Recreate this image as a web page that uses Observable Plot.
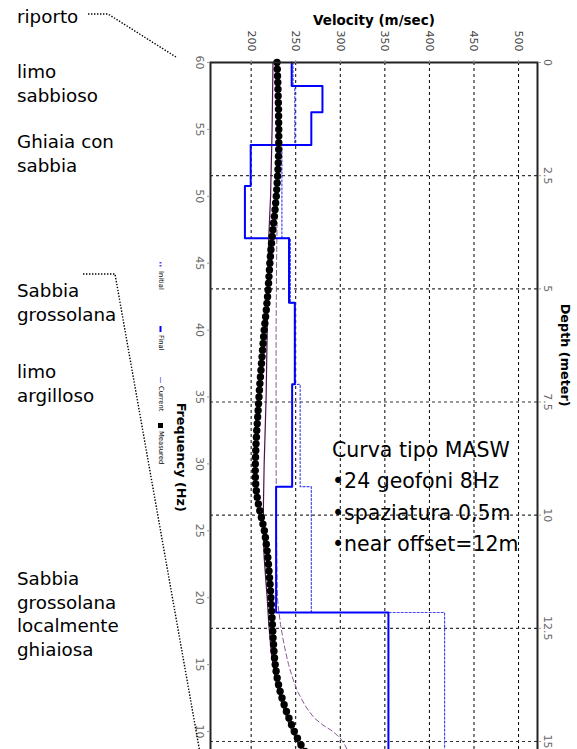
<!DOCTYPE html>
<html>
<head>
<meta charset="utf-8">
<script src="https://cdn.jsdelivr.net/npm/d3@7"></script>
<script src="https://cdn.jsdelivr.net/npm/@observablehq/plot@0.6"></script>
<style>
  html, body { margin: 0; padding: 0; background: #fff; overflow: hidden; width: 577px; height: 749px; }
  #chart svg { display: block; }
</style>
</head>
<body>
<div id="chart"></div>
<script>
// ---- Shear-wave velocity model (10 layers, top depth in m) ----
const layerTop = [0, 0.52, 1.10, 1.82, 2.73, 3.88, 5.31, 7.11, 9.37, 12.15];
const vsInitial = [247, 249, 249, 234.5, 234.5, 244, 249, 255, 267.5, 417];
const vsFinal = [245.5, 280, 267.5, 199.5, 193, 242.5, 249, 246, 228, 354];

// ---- Measured dispersion curve (Hz, m/s) ----
const measuredFreq = [
  60, 59.5, 59, 58.5, 58, 57.5, 57, 56.5, 56, 55.5, 55, 54.5, 54, 53.5, 53, 52.5, 52, 51.5, 51, 50.5,
  50, 49.5, 49, 48.5, 48, 47.5, 47, 46.5, 46, 45.5, 45, 44.5, 44, 43.5, 43, 42.5, 42, 41.5, 41, 40.5,
  40, 39.5, 39, 38.5, 38, 37.5, 37, 36.5, 36, 35.5, 35, 34.5, 34, 33.5, 33, 32.5, 32, 31.5, 31, 30.5,
  30, 29.5, 29, 28.5, 28, 27.5, 27, 26.5, 26, 25.5, 25, 24.5, 24, 23.5, 23, 22.5, 22, 21.5, 21, 20.5,
  20, 19.5, 19, 18.5, 18, 17.5, 17, 16.5, 16, 15.5, 15, 14.5, 14, 13.5, 13, 12.5, 12, 11.5, 11, 10.5,
  10, 9.5, 9, 8.5
];
const measuredVel = [
  229.0, 229.3, 229.6, 229.9, 230.1, 230.3, 230.5, 230.7, 230.8, 230.9, 231.0, 231.0, 231.0, 230.9, 230.7, 230.4, 230.1, 229.7, 229.2, 228.7,
  228.2, 227.5, 226.8, 226.0, 225.2, 224.4, 223.6, 222.9, 222.2, 221.6, 221.0, 220.5, 220.0, 219.5, 219.0, 218.4, 217.7, 217.0, 216.2, 215.4,
  214.6, 214.0, 213.4, 212.8, 212.2, 211.6, 211.0, 210.4, 209.8, 209.3, 208.8, 208.3, 207.8, 207.3, 206.8, 206.3, 205.9, 205.5, 205.2, 204.9,
  204.7, 204.6, 204.7, 205.1, 205.8, 206.8, 208.1, 209.7, 211.5, 213.2, 214.8, 216.0, 217.0, 217.9, 218.7, 219.4, 220.0, 220.6, 221.2, 221.7,
  222.2, 222.6, 223.0, 223.4, 223.8, 224.2, 224.6, 225.1, 225.6, 226.2, 227.0, 228.0, 229.2, 230.7, 232.5, 234.6, 237.0, 239.6, 242.4, 245.3,
  248.4, 251.9, 255.9, 260.5
];

// ---- Dispersion curve of the current (final) model ----
const currentFreq = [60, 55, 50, 47, 45, 42, 40, 37, 35, 32, 30, 27, 25, 23, 21, 20, 18, 16, 15, 14, 13, 12, 11, 10, 9, 8.5];
const currentVel = [224.5, 223.5, 221.8, 219.8, 219, 218.5, 218, 217.3, 216.8, 215.5, 214.6, 213.8, 213.6, 214.6, 216.8, 218, 219.8, 222.5, 224.5, 227, 230.5, 235, 240, 246, 253.5, 258];

// ---- Dispersion curve of the initial model ----
const initialDispFreq = [60, 50, 45, 40, 35, 30, 25, 22, 20, 19, 18, 17, 16, 15, 14, 13, 12, 11.5, 11, 10.5, 10, 9.5, 9, 8.5];
const initialDispVel = [230, 229.5, 228.5, 228, 228, 228, 228.5, 229, 229.5, 231, 233, 235.5, 238.5, 242, 246.5, 252, 260, 265, 271, 280, 292, 300, 305, 309];

// ---- Axes ----
const velocityTicks = [200, 250, 300, 350, 400, 450, 500];
const freqTicks = [60, 55, 50, 45, 40, 35, 30, 25, 20, 15, 10];
const depthTicks = [0, 2.5, 5, 7.5, 10, 12.5, 15];

// ---- Text ----
const soilLabels = [
  ["riporto"],
  ["limo", "sabbioso"],
  ["Ghiaia con", "sabbia"],
  ["Sabbia", "grossolana"],
  ["limo", "argilloso"],
  ["Sabbia", "grossolana", "localmente", "ghiaiosa"]
];
const surveyNotes = ["Curva tipo MASW", "\u202224 geofoni 8Hz", "\u2022spaziatura 0,5m", "\u2022near offset=12m"];
const legendLabels = ["Initial", "Final", "Current", "Measured"];

// Frequency and depth share the vertical extent; frequency is expressed in depth units.
const pxPerHz = 13.38, pxPerM = 45.267, depthMax = 16;
const fy = f => (60 - f) * pxPerHz / pxPerM;

function profile(vs) {
  const pts = [];
  vs.forEach((v, i) => {
    const bottom = i + 1 < layerTop.length ? layerTop[i + 1] : depthMax;
    pts.push({v, d: layerTop[i]}, {v, d: bottom});
  });
  return pts;
}
const measured = measuredFreq.map((f, i) => ({v: measuredVel[i], d: fy(f)}));
const current = currentFreq.map((f, i) => ({v: currentVel[i], d: fy(f)}));
const initialDisp = initialDispFreq.map((f, i) => ({v: initialDispVel[i], d: fy(f)}));
const freqLabel = new Map(freqTicks.map(f => [fy(f).toFixed(6), String(f)]));

const W = 577, H = 800, mTop = 62;
const chart = Plot.plot({
  width: W,
  height: H,
  marginTop: mTop,
  marginLeft: 210,
  marginRight: 40,
  marginBottom: H - mTop - depthMax * pxPerM,
  style: {fontFamily: "DejaVu Sans", background: "#fff", overflow: "visible"},
  x: {domain: [154.4, 521.25], label: null},
  y: {domain: [0, depthMax], reverse: true, label: null},
  marks: [
    Plot.gridX({ticks: velocityTicks, stroke: "#000", strokeOpacity: 1, strokeDasharray: "3,3"}),
    Plot.gridY({ticks: depthTicks.filter(d => d > 0), stroke: "#333", strokeOpacity: 1, strokeWidth: 1.2, strokeDasharray: "3,3"}),
    Plot.line(initialDisp, {x: "v", y: "d", stroke: "#8a5a96", strokeWidth: 1, strokeDasharray: "5,3"}),
    Plot.line(profile(vsInitial), {x: "v", y: "d", stroke: "#4646ff", strokeWidth: 1.2, strokeDasharray: "2,2"}),
    Plot.line(profile(vsFinal), {x: "v", y: "d", stroke: "#0000ff", strokeWidth: 2}),
    Plot.line(current, {x: "v", y: "d", stroke: "#4b1150", strokeWidth: 1.2}),
    Plot.dot(measured, {x: "v", y: "d", r: 3.7, fill: "#000"}),
    Plot.frame({stroke: "#222", strokeWidth: 2}),
    Plot.axisX({anchor: "top", ticks: velocityTicks, label: null, tickSize: 3, tickPadding: 8,
      tickRotate: 90, textAnchor: "end", lineAnchor: "middle", fontSize: 11, fill: "#444", stroke: "#999"}),
    Plot.axisY({anchor: "left", ticks: freqTicks.map(fy), tickFormat: d => freqLabel.get(d.toFixed(6)), label: null,
      tickSize: 3, tickPadding: 4, tickRotate: 90, textAnchor: "middle", lineAnchor: "top", fontSize: 11, fill: "#666", stroke: "#999"}),
    Plot.axisY({anchor: "right", ticks: depthTicks, tickFormat: d => String(d), label: null,
      tickSize: 3, tickPadding: 3, tickRotate: 90, textAnchor: "middle", lineAnchor: "bottom", fontSize: 11, fill: "#666", stroke: "#999"}),
    Plot.text(["Velocity (m/sec)"], {text: d => d, frameAnchor: "top", dy: -38, lineAnchor: "bottom", fontWeight: "bold", fontSize: 13.5, fill: "#000"}),
    Plot.text(["Frequency (Hz)"], {text: d => d, frameAnchor: "left", dx: -29, dy: -22, rotate: 90, fontWeight: "bold", fontSize: 12.8, fill: "#000"}),
    Plot.text(["Depth (meter)"], {text: d => d, frameAnchor: "right", dx: 28, dy: -18, rotate: 90, fontWeight: "bold", fontSize: 12.8, fill: "#000"})
  ]
});
document.getElementById("chart").appendChild(chart);

// ---- Annotations drawn on top of the chart ----
const svg = d3.select(chart);
const ann = svg.append("g").attr("font-family", "DejaVu Sans").attr("text-anchor", "start");

// Soil descriptions on the left
const soilBaselines = [23, 78, 148, 297, 378, 585];
const lineStep = 23.5;
soilLabels.forEach((lines, i) => {
  const t = ann.append("text").attr("x", 17).attr("y", soilBaselines[i]).attr("font-size", 18.3).attr("fill", "#000");
  lines.forEach((s, j) => t.append("tspan").attr("x", 17).attr("y", soilBaselines[i] + j * lineStep).text(s));
});

// Dotted leader lines
ann.append("path").attr("d", "M88,14H108L176,57")
  .attr("fill", "none").attr("stroke", "#000").attr("stroke-width", 1.4).attr("stroke-dasharray", "1.4,1.6");
ann.append("path").attr("d", "M83,274H115L200,753")
  .attr("fill", "none").attr("stroke", "#000").attr("stroke-width", 1.4).attr("stroke-dasharray", "1.4,1.6");

// Survey setup notes
surveyNotes.forEach((s, i) => {
  ann.append("text").attr("x", 332).attr("y", 457 + i * 31.3).attr("font-size", 20.5).attr("fill", "#000").text(s);
});

// Legend (rotated)
const legendY = [262, 326, 377, 422];
const leg = ann.append("g");
legendLabels.forEach((s, i) => {
  const y = legendY[i];
  if (s === "Measured") {
    leg.append("rect").attr("x", 158).attr("y", y + 1).attr("width", 5).attr("height", 5).attr("fill", "#000");
  } else {
    leg.append("line").attr("x1", 160.5).attr("x2", 160.5).attr("y1", y).attr("y2", y + 6)
      .attr("stroke", s === "Initial" ? "#4646ff" : s === "Final" ? "#0000ff" : "#9090ff")
      .attr("stroke-width", s === "Current" ? 1.2 : 2)
      .attr("stroke-dasharray", s === "Initial" ? "1.5,1.5" : null);
  }
  leg.append("text").attr("transform", `translate(158.5,${y + 9}) rotate(90)`)
    .attr("font-size", 6.8).attr("fill", "#000").text(s);
});
</script>
</body>
</html>
